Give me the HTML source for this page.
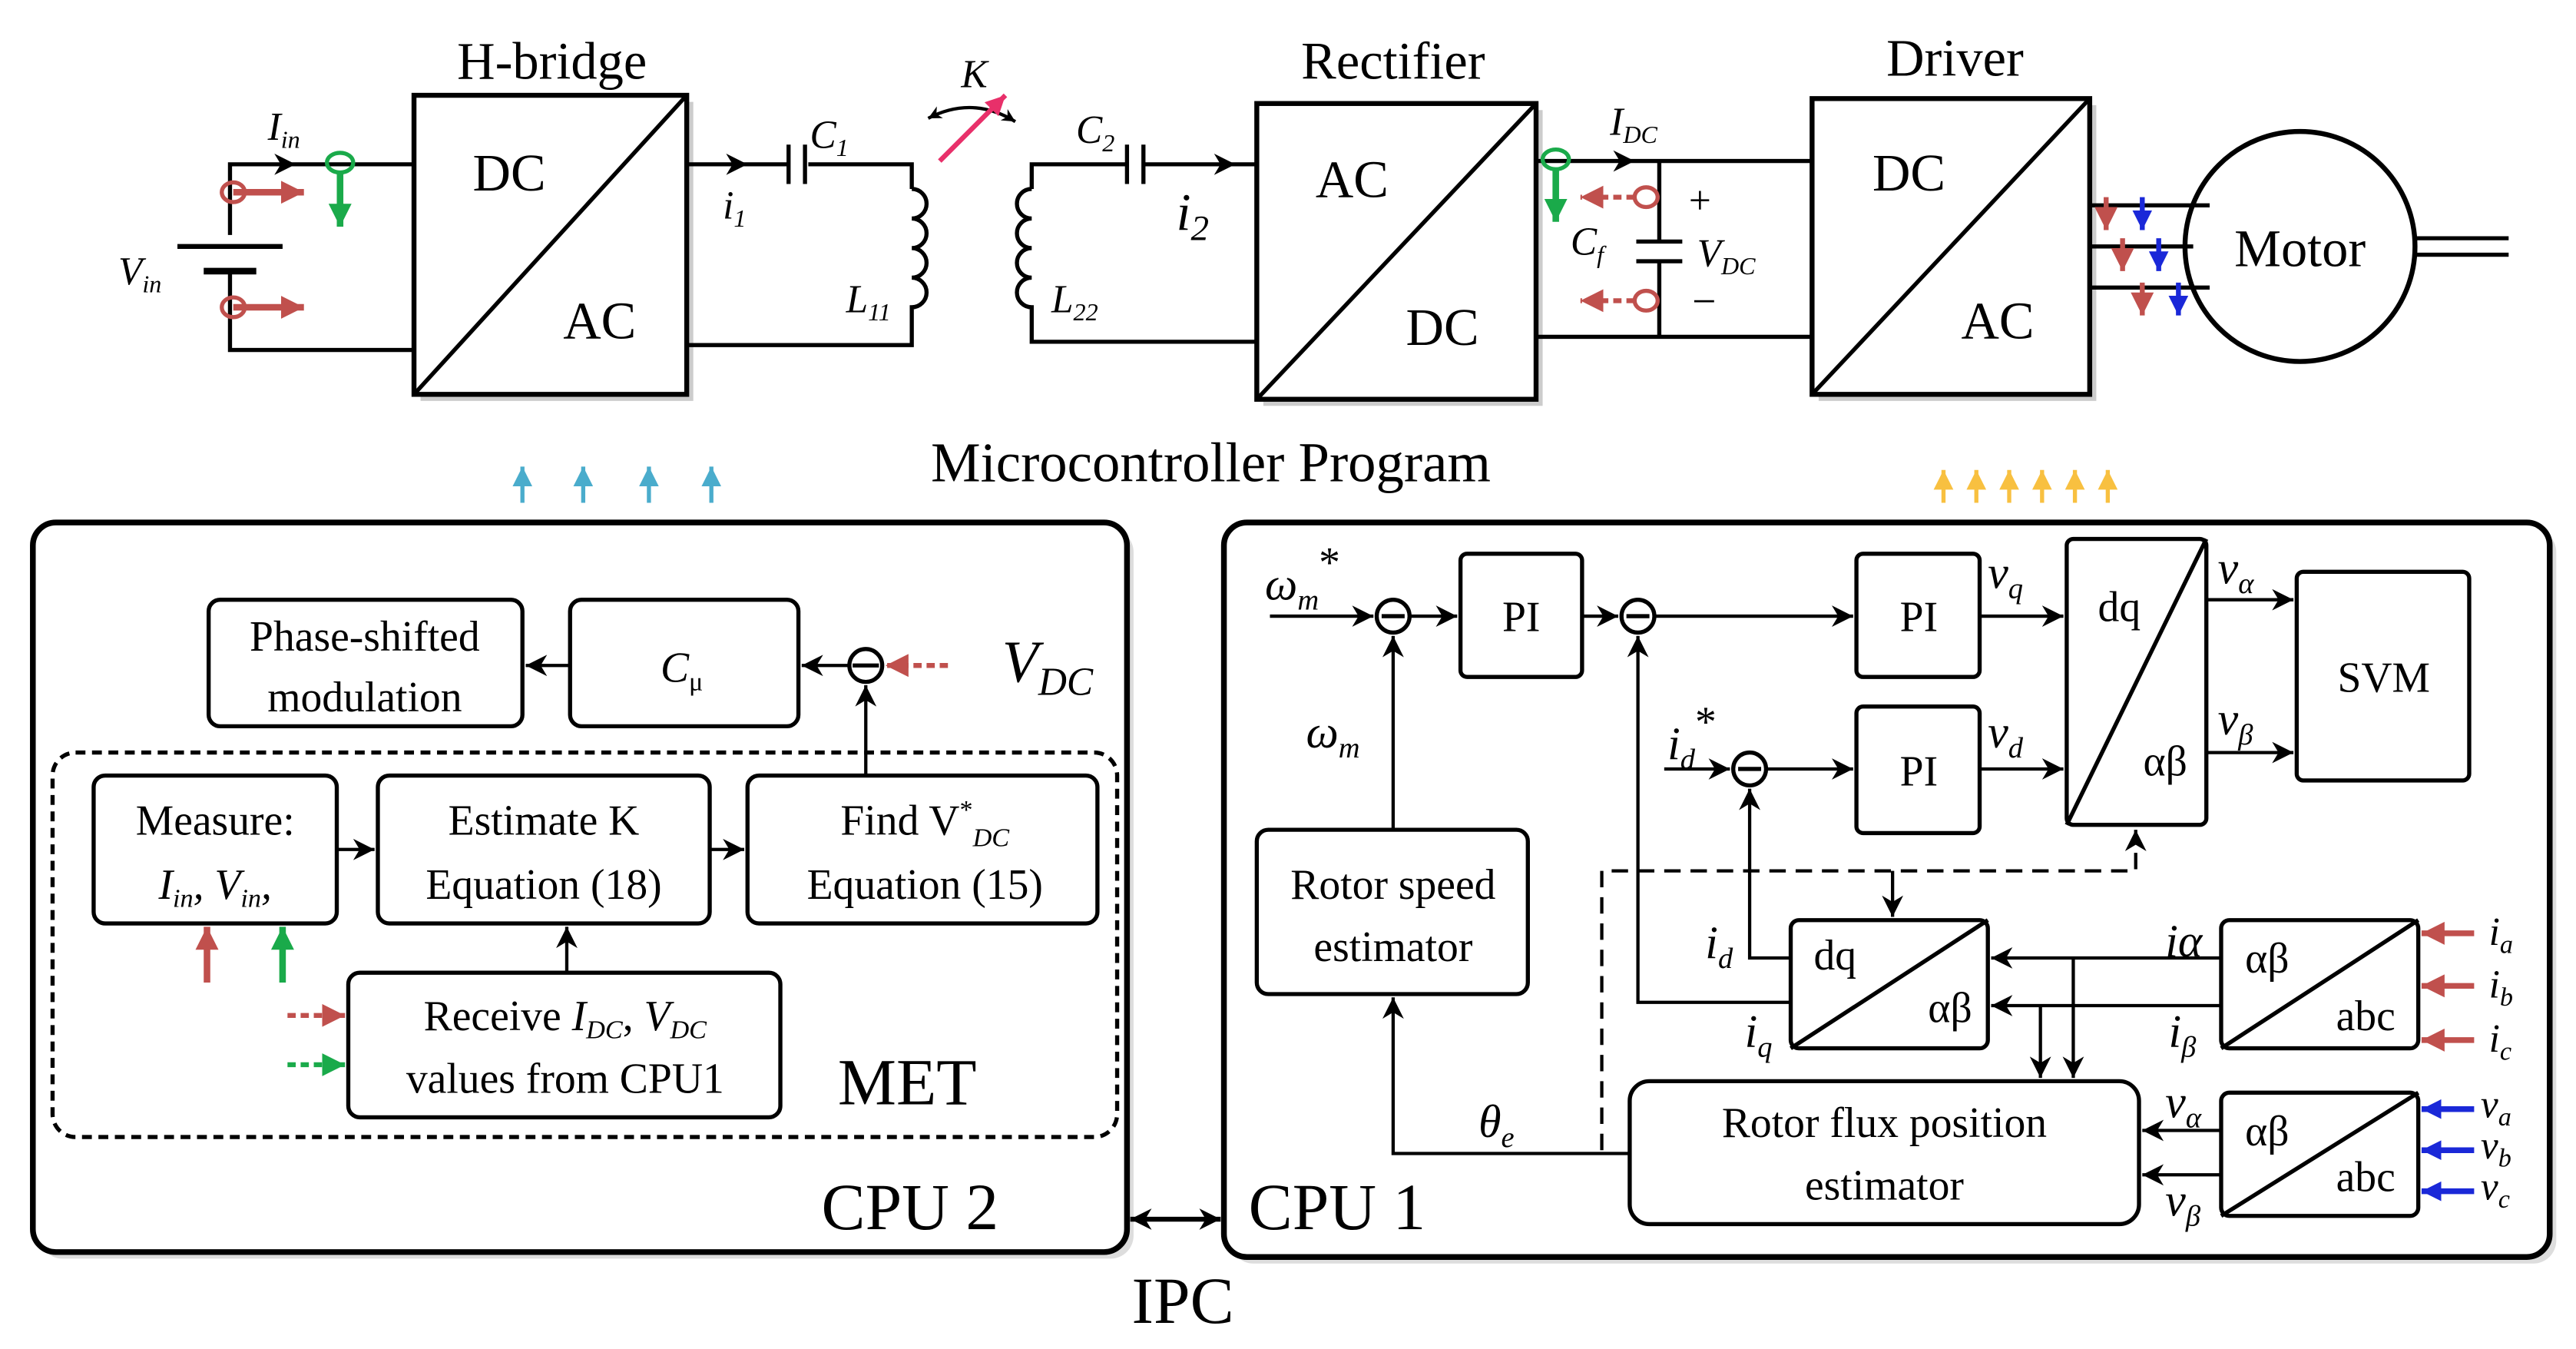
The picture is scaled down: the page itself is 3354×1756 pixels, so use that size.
<!DOCTYPE html>
<html><head><meta charset="utf-8"><style>
html,body{margin:0;padding:0;background:#fff;}
svg{display:block;font-family:"Liberation Serif","DejaVu Serif",serif;}
svg text{font-family:"Liberation Serif","DejaVu Serif",serif;fill:#000;}
.i{font-style:italic;}
</style></head><body>
<svg width="3354" height="1756" viewBox="0 0 1568 821" preserveAspectRatio="none" xmlns="http://www.w3.org/2000/svg" font-family="Liberation Serif, DejaVu Serif, serif">
<defs>
<marker id="a" viewBox="0 0 10 10" refX="10" refY="5" markerWidth="8" markerHeight="8" orient="auto-start-reverse" markerUnits="userSpaceOnUse"><path d="M0,0L10,5L0,10L3,5z" fill="#000"/></marker>
<marker id="ab" viewBox="0 0 10 10" refX="10" refY="5" markerWidth="13" markerHeight="13" orient="auto-start-reverse" markerUnits="userSpaceOnUse"><path d="M0,0L10,5L0,10L3,5z" fill="#000"/></marker>
<marker id="ar" viewBox="0 0 10 10" refX="10" refY="5" markerWidth="14" markerHeight="14" orient="auto" markerUnits="userSpaceOnUse"><path d="M0,0L10,5L0,10z" fill="#c0504d"/></marker>
<marker id="ag" viewBox="0 0 10 10" refX="10" refY="5" markerWidth="14" markerHeight="14" orient="auto" markerUnits="userSpaceOnUse"><path d="M0,0L10,5L0,10z" fill="#1aaa4a"/></marker>
<marker id="abl" viewBox="0 0 10 10" refX="10" refY="5" markerWidth="12" markerHeight="12" orient="auto" markerUnits="userSpaceOnUse"><path d="M0,0L10,5L0,10z" fill="#1a28d8"/></marker>
<marker id="ac" viewBox="0 0 10 10" refX="10" refY="5" markerWidth="12" markerHeight="12" orient="auto" markerUnits="userSpaceOnUse"><path d="M0,0L10,5L0,10z" fill="#4aaccc"/></marker>
<marker id="ay" viewBox="0 0 10 10" refX="10" refY="5" markerWidth="12" markerHeight="12" orient="auto" markerUnits="userSpaceOnUse"><path d="M0,0L10,5L0,10z" fill="#f8c040"/></marker>
<marker id="ap" viewBox="0 0 10 10" refX="10" refY="5" markerWidth="12" markerHeight="12" orient="auto" markerUnits="userSpaceOnUse"><path d="M0,0L10,5L0,10z" fill="#e8306a"/></marker>
</defs>

<!-- ===== TOP CIRCUIT ===== -->
<g fill="none" stroke="#000" stroke-width="2.5">
<rect x="256" y="62" width="166" height="182" fill="#ccc" stroke="none"/>
<rect x="769" y="67" width="170" height="180" fill="#ccc" stroke="none"/>
<rect x="1107" y="64" width="169" height="180" fill="#ccc" stroke="none"/>
<rect x="252" y="58" width="166" height="182" fill="#fff" stroke-width="3"/>
<line x1="252" y1="240" x2="418" y2="58"/>
<rect x="765" y="63" width="170" height="180" fill="#fff" stroke-width="3"/>
<line x1="765" y1="243" x2="935" y2="63"/>
<rect x="1103" y="60" width="169" height="180" fill="#fff" stroke-width="3"/>
<line x1="1103" y1="240" x2="1272" y2="60"/>
<circle cx="1400" cy="150" r="70" stroke-width="3"/>
<line x1="1470" y1="145" x2="1527" y2="145"/><line x1="1470" y1="155" x2="1527" y2="155"/>
<path d="M140,143V100H252"/><path d="M140,165V213H252"/>
<line x1="108" y1="150" x2="172" y2="150" stroke-width="3"/>
<line x1="124" y1="165" x2="156" y2="165" stroke-width="4"/>
<path d="M418,100H480M492,100H555V115"/><line x1="480" y1="88" x2="480" y2="112"/><line x1="490" y1="88" x2="490" y2="112"/>
<path d="M555,115a9,9 0 0 1 0,18a9,9 0 0 1 0,18a9,9 0 0 1 0,18a9,9 0 0 1 0,18V210H418"/>
<path d="M628,115V100H686M697,100H765"/><line x1="686" y1="88" x2="686" y2="112"/><line x1="696" y1="88" x2="696" y2="112"/>
<path d="M628,115a9,9 0 0 0 0,18a9,9 0 0 0 0,18a9,9 0 0 0 0,18a9,9 0 0 0 0,18V208H765"/>
<path d="M935,98H1103M935,205H1103"/>
<path d="M1010,98V147M1010,159V205"/><line x1="996" y1="147" x2="1024" y2="147"/><line x1="996" y1="159" x2="1024" y2="159"/>
<path d="M1272,125H1345M1272,150H1335M1272,175H1345"/>
</g>
<g stroke="#000" stroke-width="2" fill="none">
<line x1="418" y1="100" x2="455" y2="100" marker-end="url(#ab)"/>
<line x1="720" y1="100" x2="752" y2="100" marker-end="url(#ab)"/>
<line x1="145" y1="100" x2="180" y2="100" marker-end="url(#ab)"/>
<line x1="960" y1="98" x2="995" y2="98" marker-end="url(#ab)"/>
<path d="M565,72 Q592,58 618,74" marker-start="url(#a)" marker-end="url(#a)"/>
</g>
<line x1="572" y1="98" x2="612" y2="58" stroke="#e8306a" stroke-width="3" marker-end="url(#ap)"/>
<g stroke-width="2.5" fill="none">
<ellipse cx="142" cy="117" rx="7" ry="6" stroke="#c0504d"/><line x1="142" y1="117" x2="185" y2="117" stroke="#c0504d" stroke-width="4" marker-end="url(#ar)"/>
<ellipse cx="142" cy="187" rx="7" ry="6" stroke="#c0504d"/><line x1="142" y1="187" x2="185" y2="187" stroke="#c0504d" stroke-width="4" marker-end="url(#ar)"/>
<ellipse cx="207" cy="99" rx="8" ry="6" stroke="#1aaa4a"/><line x1="207" y1="105" x2="207" y2="138" stroke="#1aaa4a" stroke-width="4" marker-end="url(#ag)"/>
<ellipse cx="947" cy="97" rx="8" ry="6" stroke="#1aaa4a"/><line x1="947" y1="103" x2="947" y2="135" stroke="#1aaa4a" stroke-width="4" marker-end="url(#ag)"/>
<ellipse cx="1002" cy="120" rx="7" ry="6" stroke="#c0504d"/><line x1="995" y1="120" x2="962" y2="120" stroke="#c0504d" stroke-width="3" stroke-dasharray="5,3" marker-end="url(#ar)"/>
<ellipse cx="1002" cy="183" rx="7" ry="6" stroke="#c0504d"/><line x1="995" y1="183" x2="962" y2="183" stroke="#c0504d" stroke-width="3" stroke-dasharray="5,3" marker-end="url(#ar)"/>
</g>
<g stroke-width="3">
<line x1="1282" y1="120" x2="1282" y2="140" stroke="#c0504d" marker-end="url(#ar)"/>
<line x1="1304" y1="120" x2="1304" y2="140" stroke="#1a28d8" marker-end="url(#abl)"/>
<line x1="1292" y1="145" x2="1292" y2="165" stroke="#c0504d" marker-end="url(#ar)"/>
<line x1="1314" y1="145" x2="1314" y2="165" stroke="#1a28d8" marker-end="url(#abl)"/>
<line x1="1304" y1="172" x2="1304" y2="192" stroke="#c0504d" marker-end="url(#ar)"/>
<line x1="1326" y1="172" x2="1326" y2="192" stroke="#1a28d8" marker-end="url(#abl)"/>
</g>
<g font-size="32">
<text x="336" y="48" text-anchor="middle">H-bridge</text>
<text x="848" y="48" text-anchor="middle">Rectifier</text>
<text x="1190" y="46" text-anchor="middle">Driver</text>
<text x="310" y="116" text-anchor="middle">DC</text><text x="365" y="206" text-anchor="middle">AC</text>
<text x="823" y="120" text-anchor="middle">AC</text><text x="878" y="210" text-anchor="middle">DC</text>
<text x="1162" y="116" text-anchor="middle">DC</text><text x="1216" y="206" text-anchor="middle">AC</text>
<text x="1400" y="162" text-anchor="middle">Motor</text>
</g>
<g font-size="24" class="i">
<text x="163" y="85" class="i">I<tspan font-size="15" dy="5">in</tspan></text>
<text x="72" y="173" class="i">V<tspan font-size="15" dy="5">in</tspan></text>
<text x="440" y="133" class="i">i<tspan font-size="15" dy="5">1</tspan></text>
<text x="493" y="90" class="i">C<tspan font-size="15" dy="5">1</tspan></text>
<text x="515" y="190" class="i">L<tspan font-size="15" dy="5">11</tspan></text>
<text x="585" y="53" class="i">K</text>
<text x="655" y="87" class="i">C<tspan font-size="15" dy="5">2</tspan></text>
<text x="716" y="140" font-size="32" class="i">i<tspan font-size="22" dy="6">2</tspan></text>
<text x="640" y="190" class="i">L<tspan font-size="15" dy="5">22</tspan></text>
<text x="980" y="82" class="i">I<tspan font-size="15" dy="5">DC</tspan></text>
<text x="956" y="155" class="i">C<tspan font-size="15" dy="5">f</tspan></text>
<text x="1033" y="162" class="i">V<tspan font-size="15" dy="5">DC</tspan></text>
</g>
<text x="1028" y="130" font-size="24">+</text><text x="1030" y="192" font-size="26">−</text>
<text x="737" y="293" font-size="34" text-anchor="middle">Microcontroller Program</text>
<g stroke="#4aaccc" stroke-width="2.5">
<line x1="318" y1="306" x2="318" y2="284" marker-end="url(#ac)"/><line x1="355" y1="306" x2="355" y2="284" marker-end="url(#ac)"/>
<line x1="395" y1="306" x2="395" y2="284" marker-end="url(#ac)"/><line x1="433" y1="306" x2="433" y2="284" marker-end="url(#ac)"/>
<line x1="155" y1="365" x2="155" y2="338" marker-end="url(#ac)"/><line x1="200" y1="365" x2="200" y2="338" marker-end="url(#ac)"/>
<line x1="237" y1="365" x2="237" y2="338" marker-end="url(#ac)"/><line x1="273" y1="365" x2="273" y2="338" marker-end="url(#ac)"/>
</g>
<g stroke="#f8c040" stroke-width="2.5">
<line x1="1183" y1="306" x2="1183" y2="286" marker-end="url(#ay)"/><line x1="1203" y1="306" x2="1203" y2="286" marker-end="url(#ay)"/>
<line x1="1223" y1="306" x2="1223" y2="286" marker-end="url(#ay)"/><line x1="1243" y1="306" x2="1243" y2="286" marker-end="url(#ay)"/>
<line x1="1263" y1="306" x2="1263" y2="286" marker-end="url(#ay)"/><line x1="1283" y1="306" x2="1283" y2="286" marker-end="url(#ay)"/>
<line x1="1403" y1="346" x2="1403" y2="324" marker-end="url(#ay)"/><line x1="1423" y1="346" x2="1423" y2="324" marker-end="url(#ay)"/>
<line x1="1443" y1="346" x2="1443" y2="324" marker-end="url(#ay)"/><line x1="1463" y1="346" x2="1463" y2="324" marker-end="url(#ay)"/>
<line x1="1483" y1="346" x2="1483" y2="324" marker-end="url(#ay)"/><line x1="1503" y1="346" x2="1503" y2="324" marker-end="url(#ay)"/>
</g>

<!-- ===== CPU 2 ===== -->
<rect x="24" y="322" width="666" height="444" rx="14" fill="#ddd"/>
<rect x="20" y="318" width="666" height="444" rx="14" fill="#fff" stroke="#000" stroke-width="3.5"/>
<g fill="#fff" stroke="#000" stroke-width="2.5">
<rect x="127" y="365" width="191" height="77" rx="7"/>
<rect x="347" y="365" width="139" height="77" rx="7"/>
<rect x="32" y="458" width="648" height="234" rx="14" fill="none" stroke-dasharray="6,4"/>
<rect x="57" y="472" width="148" height="90" rx="7"/>
<rect x="230" y="472" width="202" height="90" rx="7"/>
<rect x="455" y="472" width="213" height="90" rx="7"/>
<rect x="212" y="592" width="263" height="88" rx="7"/>
<circle cx="527" cy="405" r="10"/>
</g>
<line x1="519" y1="405" x2="535" y2="405" stroke="#000" stroke-width="2.5"/>
<g stroke="#000" stroke-width="2" fill="none">
<line x1="517" y1="405" x2="488" y2="405" marker-end="url(#ab)"/>
<line x1="347" y1="405" x2="320" y2="405" marker-end="url(#ab)"/>
<line x1="527" y1="472" x2="527" y2="417" marker-end="url(#ab)"/>
<line x1="205" y1="517" x2="228" y2="517" marker-end="url(#ab)"/>
<line x1="432" y1="517" x2="453" y2="517" marker-end="url(#ab)"/>
<line x1="345" y1="592" x2="345" y2="564" marker-end="url(#ab)"/>
</g>
<line x1="577" y1="405" x2="539" y2="405" stroke="#c0504d" stroke-width="3" stroke-dasharray="5,3" marker-end="url(#ar)"/>
<line x1="126" y1="598" x2="126" y2="564" stroke="#c0504d" stroke-width="4" marker-end="url(#ar)"/>
<line x1="172" y1="598" x2="172" y2="564" stroke="#1aaa4a" stroke-width="4" marker-end="url(#ag)"/>
<line x1="175" y1="618" x2="210" y2="618" stroke="#c0504d" stroke-width="3" stroke-dasharray="5,3" marker-end="url(#ar)"/>
<line x1="175" y1="648" x2="210" y2="648" stroke="#1aaa4a" stroke-width="3" stroke-dasharray="5,3" marker-end="url(#ag)"/>
<g font-size="26" text-anchor="middle">
<text x="222" y="396">Phase-shifted</text><text x="222" y="433">modulation</text>
<text x="415" y="415" class="i">C<tspan font-size="16" dy="5" font-style="normal">μ</tspan></text>
<text x="131" y="508">Measure:</text>
<text x="131" y="547" class="i">I<tspan font-size="16" dy="5">in</tspan><tspan dy="-5">, V</tspan><tspan font-size="16" dy="5">in</tspan><tspan dy="-5">,</tspan></text>
<text x="331" y="508">Estimate K</text><text x="331" y="547">Equation (18)</text>
<text x="563" y="508">Find V<tspan font-size="16" dy="-10">*</tspan><tspan font-size="16" dy="17" class="i">DC</tspan></text>
<text x="563" y="547">Equation (15)</text>
<text x="344" y="627">Receive <tspan class="i">I</tspan><tspan font-size="16" dy="5" class="i">DC</tspan><tspan dy="-5">, </tspan><tspan class="i">V</tspan><tspan font-size="16" dy="5" class="i">DC</tspan></text>
<text x="344" y="665">values from CPU1</text>
</g>
<text x="610" y="415" font-size="36" class="i">V<tspan font-size="24" dy="8">DC</tspan></text>
<text x="510" y="672" font-size="40">MET</text>
<text x="500" y="748" font-size="40">CPU 2</text>
<line x1="688" y1="742" x2="743" y2="742" stroke="#000" stroke-width="3" marker-start="url(#ab)" marker-end="url(#ab)"/>
<text x="720" y="805" font-size="40" text-anchor="middle">IPC</text>

<!-- ===== CPU 1 ===== -->
<rect x="749" y="322" width="807" height="447" rx="14" fill="#ddd"/>
<rect x="745" y="318" width="807" height="447" rx="14" fill="#fff" stroke="#000" stroke-width="3.5"/>
<g fill="#fff" stroke="#000" stroke-width="2.5">
<rect x="889" y="337" width="74" height="75" rx="4"/>
<rect x="1130" y="337" width="75" height="75" rx="4"/>
<rect x="1130" y="430" width="75" height="77" rx="4"/>
<rect x="1258" y="328" width="85" height="174" rx="4"/>
<rect x="1398" y="348" width="105" height="127" rx="4"/>
<rect x="765" y="505" width="165" height="100" rx="7"/>
<rect x="1090" y="560" width="120" height="78" rx="5"/>
<rect x="1352" y="560" width="120" height="78" rx="5"/>
<rect x="1352" y="665" width="120" height="75" rx="5"/>
<rect x="992" y="658" width="310" height="87" rx="12"/>
<circle cx="848" cy="375" r="10"/><circle cx="997" cy="375" r="10"/><circle cx="1065" cy="468" r="10"/>
</g>
<g stroke="#000" stroke-width="2.5" fill="none">
<line x1="1258" y1="502" x2="1343" y2="328"/>
<line x1="1090" y1="638" x2="1210" y2="560"/>
<line x1="1352" y1="638" x2="1472" y2="560"/>
<line x1="1352" y1="740" x2="1472" y2="665"/>
<line x1="841" y1="375" x2="855" y2="375"/><line x1="990" y1="375" x2="1004" y2="375"/><line x1="1058" y1="468" x2="1072" y2="468"/>
</g>
<g stroke="#000" stroke-width="2" fill="none">
<line x1="773" y1="375" x2="836" y2="375" marker-end="url(#ab)"/>
<line x1="858" y1="375" x2="887" y2="375" marker-end="url(#ab)"/>
<line x1="963" y1="375" x2="985" y2="375" marker-end="url(#ab)"/>
<line x1="1007" y1="375" x2="1128" y2="375" marker-end="url(#ab)"/>
<line x1="1205" y1="375" x2="1256" y2="375" marker-end="url(#ab)"/>
<line x1="1013" y1="468" x2="1053" y2="468" marker-end="url(#ab)"/>
<line x1="1075" y1="468" x2="1128" y2="468" marker-end="url(#ab)"/>
<line x1="1205" y1="468" x2="1256" y2="468" marker-end="url(#ab)"/>
<line x1="1343" y1="365" x2="1396" y2="365" marker-end="url(#ab)"/>
<line x1="1343" y1="458" x2="1396" y2="458" marker-end="url(#ab)"/>
<line x1="848" y1="505" x2="848" y2="387" marker-end="url(#ab)"/>
<path d="M992,702H848V607" marker-end="url(#ab)"/>
<path d="M1090,583H1065V480" marker-end="url(#ab)"/>
<path d="M1090,610H997V387" marker-end="url(#ab)"/>
<line x1="1352" y1="583" x2="1212" y2="583" marker-end="url(#ab)"/>
<line x1="1352" y1="612" x2="1212" y2="612" marker-end="url(#ab)"/>
<path d="M1262,583V656" marker-end="url(#ab)"/>
<path d="M1242,612V656" marker-end="url(#ab)"/>
<line x1="1352" y1="688" x2="1304" y2="688" marker-end="url(#ab)"/>
<line x1="1352" y1="715" x2="1304" y2="715" marker-end="url(#ab)"/>
<path d="M975,700V530H1300V505" stroke-dasharray="10,6" marker-end="url(#ab)"/>
<line x1="1152" y1="530" x2="1152" y2="558" marker-end="url(#ab)"/>
</g>
<g stroke-width="3.5">
<line x1="1506" y1="568" x2="1474" y2="568" stroke="#c0504d" marker-end="url(#ar)"/>
<line x1="1506" y1="600" x2="1474" y2="600" stroke="#c0504d" marker-end="url(#ar)"/>
<line x1="1506" y1="633" x2="1474" y2="633" stroke="#c0504d" marker-end="url(#ar)"/>
<line x1="1506" y1="675" x2="1474" y2="675" stroke="#1a28d8" marker-end="url(#abl)"/>
<line x1="1506" y1="700" x2="1474" y2="700" stroke="#1a28d8" marker-end="url(#abl)"/>
<line x1="1506" y1="725" x2="1474" y2="725" stroke="#1a28d8" marker-end="url(#abl)"/>
</g>
<g font-size="26" text-anchor="middle">
<text x="926" y="384">PI</text><text x="1168" y="384">PI</text><text x="1168" y="478">PI</text>
<text x="1290" y="378">dq</text><text x="1318" y="472">αβ</text>
<text x="1451" y="421">SVM</text>
<text x="848" y="547">Rotor speed</text><text x="848" y="585">estimator</text>
<text x="1117" y="590">dq</text><text x="1187" y="622">αβ</text>
<text x="1380" y="592">αβ</text><text x="1440" y="627">abc</text>
<text x="1380" y="697">αβ</text><text x="1440" y="725">abc</text>
<text x="1147" y="692">Rotor flux position</text><text x="1147" y="730">estimator</text>
</g>
<g font-size="28" class="i">
<text x="770" y="365">ω<tspan font-size="18" dy="6">m</tspan><tspan font-size="26" dy="-20" font-style="normal">*</tspan></text>
<text x="795" y="455">ω<tspan font-size="18" dy="6">m</tspan></text>
<text x="1015" y="462">i<tspan font-size="18" dy="6">d</tspan><tspan font-size="26" dy="-20" font-style="normal">*</tspan></text>
<text x="1210" y="358">v<tspan font-size="18" dy="6">q</tspan></text>
<text x="1210" y="455">v<tspan font-size="18" dy="6">d</tspan></text>
<text x="1350" y="355">v<tspan font-size="18" dy="6">α</tspan></text>
<text x="1350" y="447">v<tspan font-size="18" dy="6">β</tspan></text>
<text x="1038" y="583">i<tspan font-size="18" dy="6">d</tspan></text>
<text x="1062" y="637">i<tspan font-size="18" dy="6">q</tspan></text>
<text x="1318" y="582">iα</text>
<text x="1320" y="637">i<tspan font-size="18" dy="6">β</tspan></text>
<text x="1318" y="680">v<tspan font-size="18" dy="6">α</tspan></text>
<text x="1318" y="740">v<tspan font-size="18" dy="6">β</tspan></text>
<text x="900" y="692">θ<tspan font-size="18" dy="6">e</tspan></text>
<text x="1515" y="575" font-size="24">i<tspan font-size="16" dy="5">a</tspan></text>
<text x="1515" y="607" font-size="24">i<tspan font-size="16" dy="5">b</tspan></text>
<text x="1515" y="640" font-size="24">i<tspan font-size="16" dy="5">c</tspan></text>
<text x="1510" y="680" font-size="24">v<tspan font-size="16" dy="5">a</tspan></text>
<text x="1510" y="705" font-size="24">v<tspan font-size="16" dy="5">b</tspan></text>
<text x="1510" y="730" font-size="24">v<tspan font-size="16" dy="5">c</tspan></text>
</g>
<text x="760" y="748" font-size="40">CPU 1</text>
</svg>
</body></html>
